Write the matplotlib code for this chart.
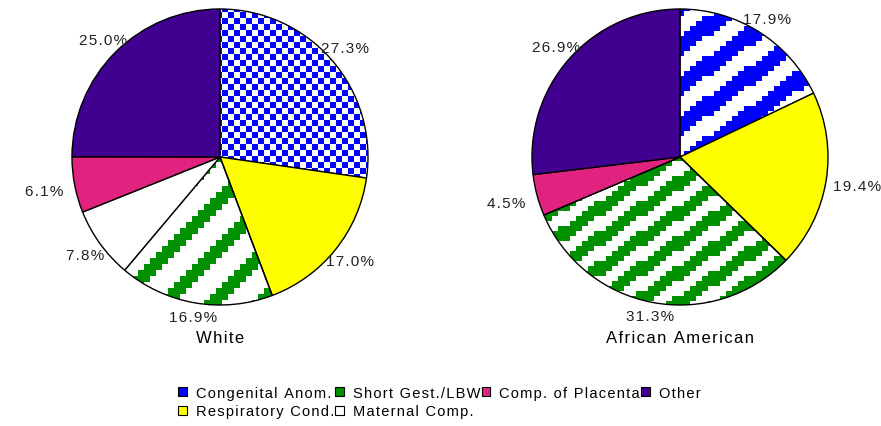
import numpy as np
import matplotlib
matplotlib.use('Agg')
import matplotlib.pyplot as plt
from matplotlib.patches import Patch

plt.rcParams['font.family'] = ['Liberation Sans', 'DejaVu Sans']

# data
categories = ['Congenital Anom.', 'Respiratory Cond.', 'Short Gest./LBW',
              'Maternal Comp.', 'Comp. of Placenta', 'Other']
white = [27.3, 17.0, 16.9, 7.8, 6.1, 25.0]
african_american = [17.9, 19.4, 31.3, 0.0, 4.5, 26.9]
groups = ['White', 'African American']

colors = ['#0000ff', '#ffff00', '#009000', '#ffffff', '#e0237f', '#400090']

W, H = 881, 427
R = 148
centers = [(220, H - 158), (680, H - 158)]

yy, xx = np.mgrid[0:H, 0:W]


def spaced(s):
    # the reference text is drawn with a little extra letter spacing
    return '\u200a'.join(s)


def to_rgba(on, color):
    img = np.ones((H, W, 4))
    img[on, :3] = matplotlib.colors.to_rgb(color)
    return img


def checker(color, cell=6):
    on = ((xx // cell + yy // cell) % 2) == 0
    return to_rgba(on, color)


def stripes(color, slope, period, width, bx=6, by=5):
    xq = (xx // bx) * bx
    yq = (yy // by) * by
    on = np.mod(yq - slope * xq, period) < width
    return to_rgba(on, color)


# fill patterns per pie (index of slice -> image)
patterns = [
    {0: checker('#0000ff'), 2: stripes('#009000', 1.0, 48, 16, 6, 6)},
    {0: stripes('#0000ff', 0.72, 40, 20), 2: stripes('#009000', 0.7, 30, 15)},
]

fig = plt.figure(figsize=(W / 100, H / 100), dpi=100)
ax = fig.add_axes([0, 0, 1, 1])

for values, center, name, pats in zip([white, african_american], centers, groups, patterns):
    faces = ['none' if i in pats else c for i, c in enumerate(colors)]
    wedges, _ = ax.pie(values, colors=faces, startangle=90, counterclock=False,
                       center=center, radius=R, frame=True,
                       wedgeprops=dict(edgecolor='black', linewidth=1.0))
    for i, img in pats.items():
        im = ax.imshow(img, extent=(0, W, 0, H), origin='lower',
                       interpolation='nearest', zorder=0.5)
        im.set_clip_path(wedges[i])

    # percentage labels just outside the rim
    cum = 0.0
    total = sum(values)
    for v in values:
        if v > 0:
            theta = np.deg2rad(90 - 360 * (cum + v / 2) / total)
            c, s = np.cos(theta), np.sin(theta)
            ext = min(24 / max(abs(c), 1e-6), 7 / max(abs(s), 1e-6))
            d = R + 7 + ext
            ax.text(center[0] + d * c, center[1] + d * s, spaced(f'{v:.1f}%'),
                    ha='center', va='center', fontsize=11, color='#222222')
        cum += v

    ax.text(center[0], H - 339, spaced(name), ha='center', va='center', fontsize=12)

ax.set_xlim(0, W)
ax.set_ylim(0, H)
ax.set_aspect('equal')
ax.axis('off')

handles = [Patch(facecolor=c, edgecolor='black', linewidth=0.8, label=spaced(l))
           for c, l in zip(colors, categories)]
fig.legend(handles=handles, loc='upper left', bbox_to_anchor=(178 / W, 1 - 387 / H),
           ncol=4, frameon=False, fontsize=10.5, handlelength=0.6, handleheight=0.6,
           handletextpad=0.6, columnspacing=0.1, labelspacing=0.3,
           borderpad=0, borderaxespad=0)

fig.savefig('out.png', dpi=100)
